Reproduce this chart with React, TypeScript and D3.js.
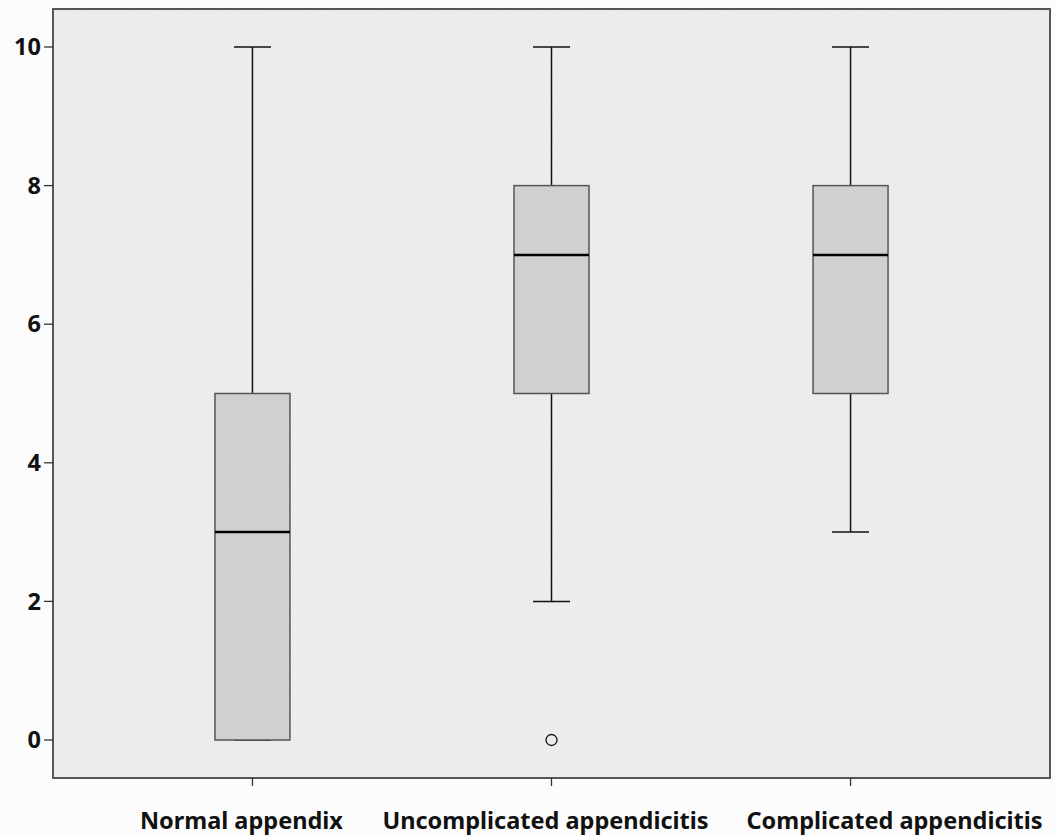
import React, { useEffect, useRef } from "react";
import * as d3 from "d3";

const groups = ["Normal appendix", "Uncomplicated appendicitis", "Complicated appendicitis"];
const mins = [0, 2, 3];
const q1s = [0, 5, 5];
const medians = [3, 7, 7];
const q3s = [5, 8, 8];
const maxs = [10, 10, 10];
const outliers = [[], [0], []];
const yTicks = [0, 2, 4, 6, 8, 10];

const W = 1056;
const H = 835;
// the label layout of the original nudges the labels off their ticks
const labelShift = [-11, -6, 44];

export default function App() {
  const ref = useRef<SVGSVGElement>(null);

  useEffect(() => {
    const svg = d3.select(ref.current);
    svg.selectAll("*").remove();

    const left = 53, right = 1050, top = 9, bottom = 778;
    const font = "'Noto Sans', 'DejaVu Sans', sans-serif";

    const x = d3.scalePoint<string>().domain(groups).range([left, right]).padding(0.667);
    const y = d3.scaleLinear().domain([0, 10]).range([740, 47]);

    // background with a faint texture
    const defs = svg.append("defs");
    const f = defs.append("filter").attr("id", "grain");
    f.append("feTurbulence").attr("type", "fractalNoise").attr("baseFrequency", 0.9).attr("numOctaves", 2).attr("seed", 3);
    f.append("feColorMatrix").attr("type", "matrix")
      .attr("values", "0 0 0 0 0  0 0 0 0 0  0 0 0 0 0  0 0 0 0.025 0");

    svg.append("rect").attr("x", left).attr("y", top).attr("width", right - left).attr("height", bottom - top)
      .attr("fill", "#efefef");
    svg.append("rect").attr("x", left).attr("y", top).attr("width", right - left).attr("height", bottom - top)
      .attr("filter", "url(#grain)").attr("fill", "none").style("pointer-events", "none");

    const boxW = 75, capW = 37;
    const g = svg.append("g");

    groups.forEach((name, i) => {
      const cx = x(name)!;
      // whiskers
      g.append("line").attr("x1", cx).attr("x2", cx).attr("y1", y(maxs[i])).attr("y2", y(q3s[i]))
        .attr("stroke", "#111").attr("stroke-width", 1.5);
      g.append("line").attr("x1", cx).attr("x2", cx).attr("y1", y(q1s[i])).attr("y2", y(mins[i]))
        .attr("stroke", "#111").attr("stroke-width", 1.5);
      g.append("line").attr("x1", cx - capW / 2).attr("x2", cx + capW / 2).attr("y1", y(maxs[i])).attr("y2", y(maxs[i]))
        .attr("stroke", "#111").attr("stroke-width", 1.5);
      g.append("line").attr("x1", cx - capW / 2).attr("x2", cx + capW / 2).attr("y1", y(mins[i])).attr("y2", y(mins[i]))
        .attr("stroke", "#111").attr("stroke-width", 1.5);
      // box
      g.append("rect").attr("x", cx - boxW / 2).attr("y", y(q3s[i])).attr("width", boxW)
        .attr("height", y(q1s[i]) - y(q3s[i]))
        .attr("fill", "#d0d0d0").attr("stroke", "#555").attr("stroke-width", 1.5);
      // median
      g.append("line").attr("x1", cx - boxW / 2).attr("x2", cx + boxW / 2).attr("y1", y(medians[i])).attr("y2", y(medians[i]))
        .attr("stroke", "#000").attr("stroke-width", 2.5);
      // outliers
      outliers[i].forEach((v) => {
        g.append("circle").attr("cx", cx).attr("cy", y(v)).attr("r", 5.5)
          .attr("fill", "none").attr("stroke", "#111").attr("stroke-width", 1.3);
      });
    });

    // frame
    svg.append("rect").attr("x", left).attr("y", top).attr("width", right - left).attr("height", bottom - top)
      .attr("fill", "none").attr("stroke", "#555").attr("stroke-width", 2);

    // y axis
    const ya = svg.append("g");
    yTicks.forEach((t) => {
      ya.append("line").attr("x1", left - 9).attr("x2", left).attr("y1", y(t)).attr("y2", y(t))
        .attr("stroke", "#333").attr("stroke-width", 1.3);
      ya.append("text").attr("x", left - 12).attr("y", y(t)).attr("dy", "0.35em")
        .attr("text-anchor", "end").attr("font-family", font).attr("font-weight", "bold")
        .attr("font-size", 23.5).attr("fill", "#111").text(t);
    });

    // x axis
    const xa = svg.append("g");
    groups.forEach((name, i) => {
      const cx = x(name)!;
      xa.append("line").attr("x1", cx).attr("x2", cx).attr("y1", bottom).attr("y2", bottom + 8)
        .attr("stroke", "#333").attr("stroke-width", 1.3);
      xa.append("text").attr("x", cx + labelShift[i]).attr("y", 829).attr("text-anchor", "middle")
        .attr("font-family", font).attr("font-weight", "bold").attr("font-size", 23.5)
        .attr("fill", "#111").text(name);
    });
  }, []);

  return (
    <div style={{ position: "absolute", left: 0, top: 0 }}>
      <svg ref={ref} width={W} height={H} style={{ display: "block", background: "#fff" }} />
    </div>
  );
}
